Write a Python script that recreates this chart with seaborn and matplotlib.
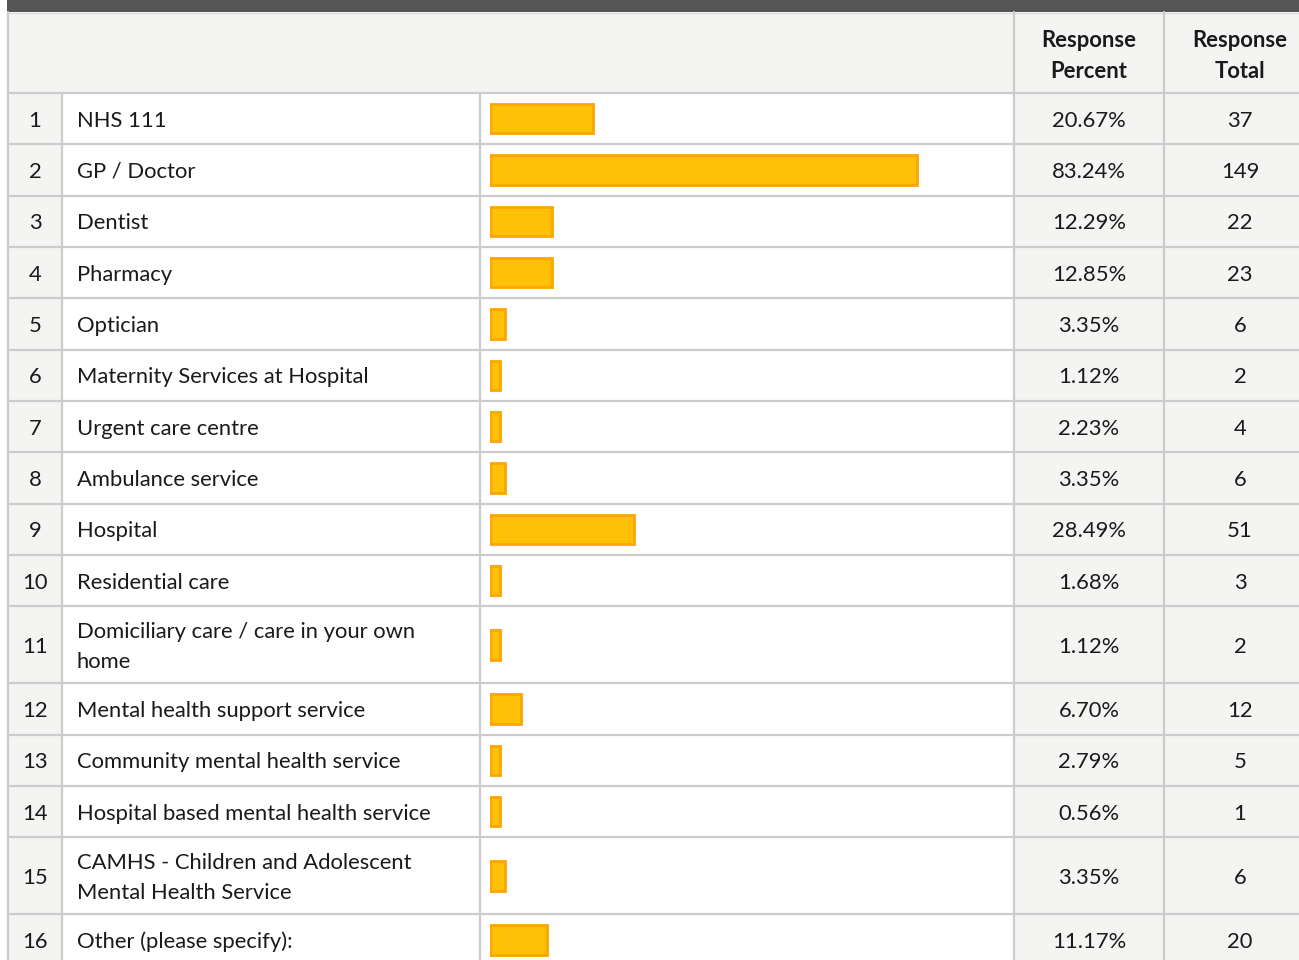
import numpy as np
import pandas as pd
import matplotlib
matplotlib.use("Agg")
import matplotlib.pyplot as plt
import seaborn as sns
from matplotlib.patches import Rectangle

# ---------------- data ----------------
row_numbers = list(range(1, 17))
labels = [
    "NHS 111",
    "GP / Doctor",
    "Dentist",
    "Pharmacy",
    "Optician",
    "Maternity Services at Hospital",
    "Urgent care centre",
    "Ambulance service",
    "Hospital",
    "Residential care",
    "Domiciliary care / care in your own\nhome",
    "Mental health support service",
    "Community mental health service",
    "Hospital based mental health service",
    "CAMHS - Children and Adolescent\nMental Health Service",
    "Other (please specify):",
]
percents = [20.67, 83.24, 12.29, 12.85, 3.35, 1.12, 2.23, 3.35,
            28.49, 1.68, 1.12, 6.70, 2.79, 0.56, 3.35, 11.17]
totals = [37, 149, 22, 23, 6, 2, 4, 6, 51, 3, 2, 12, 5, 1, 6, 20]
header_percent = "Response\nPercent"
header_total = "Response\nTotal"

# ---------------- style ----------------
sns.set_theme(style="white")
plt.rcParams["font.family"] = ["Lato", "DejaVu Sans"]

W, H = 1299, 960
fig = plt.figure(figsize=(W / 100, H / 100), dpi=100)
fig.patch.set_facecolor("white")

bg = fig.add_axes([0, 0, 1, 1])
bg.set_xlim(0, W)
bg.set_ylim(H, 0)
bg.axis("off")

GRID = "#cccccc"
GRAY = "#f4f4f3"
DARK = "#555555"
TXT = "#1a1a1a"
FILL = "#ffc107"
EDGE = "#ffa500"
FS = 15.8
LS = 1.62
DY = 2.0

x_left, x_num, x_lab, x_bar, x_pct, x_tot = 8, 62, 480, 1014.5, 1164.5, W
header_top, header_bot = 12, 93

# row geometry
heights = [77 if "\n" in s else 51.33 for s in labels]
tops = header_bot + np.concatenate([[0], np.cumsum(heights)[:-1]])
centers = tops + np.array(heights) / 2

# backgrounds
bg.add_patch(Rectangle((7, 0), W - 7, header_top, color=DARK, lw=0))
bg.add_patch(Rectangle((x_left, header_top), W - x_left, header_bot - header_top, color=GRAY, lw=0))
bg.add_patch(Rectangle((x_left, header_bot), x_num - x_left, H - header_bot, color=GRAY, lw=0))
bg.add_patch(Rectangle((x_bar, header_bot), W - x_bar, H - header_bot, color=GRAY, lw=0))
bg.plot([7, W], [header_top + 0.8, header_top + 0.8], color="#dddddd", lw=1.0)

# grid lines
lw = 1.6
bg.plot([x_left, W], [header_bot, header_bot], color=GRID, lw=lw)
for t, h in zip(tops, heights):
    bg.plot([x_left, W], [t + h, t + h], color=GRID, lw=lw)
bg.plot([x_left, x_left], [header_top, H], color=GRID, lw=lw)
for xv in (x_num, x_lab):
    bg.plot([xv, xv], [header_bot, H], color=GRID, lw=lw)
for xv in (x_bar, x_pct):
    bg.plot([xv, xv], [header_top, H], color=GRID, lw=lw)

# header text
for xc, s in ((1089, header_percent), (1240, header_total)):
    bg.text(xc, 54 + DY, s, ha="center", va="center", fontsize=FS, fontweight="bold",
            color=TXT, linespacing=LS)

# row text
for n, lab, p, t, c in zip(row_numbers, labels, percents, totals, centers):
    y = c + DY
    bg.text(35, y, str(n), ha="center", va="center", fontsize=FS, color=TXT)
    bg.text(77, y, lab, ha="left", va="center", fontsize=FS, color=TXT, linespacing=LS)
    bg.text(1089, y, f"{p:.2f}%", ha="center", va="center", fontsize=FS, color=TXT)
    bg.text(1240, y, str(t), ha="center", va="center", fontsize=FS, color=TXT)

# ---------------- bars (seaborn) ----------------
# the source draws whole-percent bar lengths with a small minimum width
display_pct = np.maximum(np.floor(percents), 2)
df = pd.DataFrame({"pct": display_pct, "center": centers})

bax = fig.add_axes([490 / W, 0, 514 / W, 1])
min_gap = np.min(np.diff(np.unique(centers)))
sns.barplot(data=df, x="pct", y="center", orient="h", native_scale=True,
            width=29.5 / min_gap, color=FILL, saturation=1, edgecolor=EDGE,
            linewidth=2.0, errorbar=None, ax=bax)
bax.set_xlim(0, 100)
bax.set_ylim(H, 0)
bax.axis("off")
bax.patch.set_alpha(0)

fig.savefig("out.png", dpi=100, facecolor="white")
